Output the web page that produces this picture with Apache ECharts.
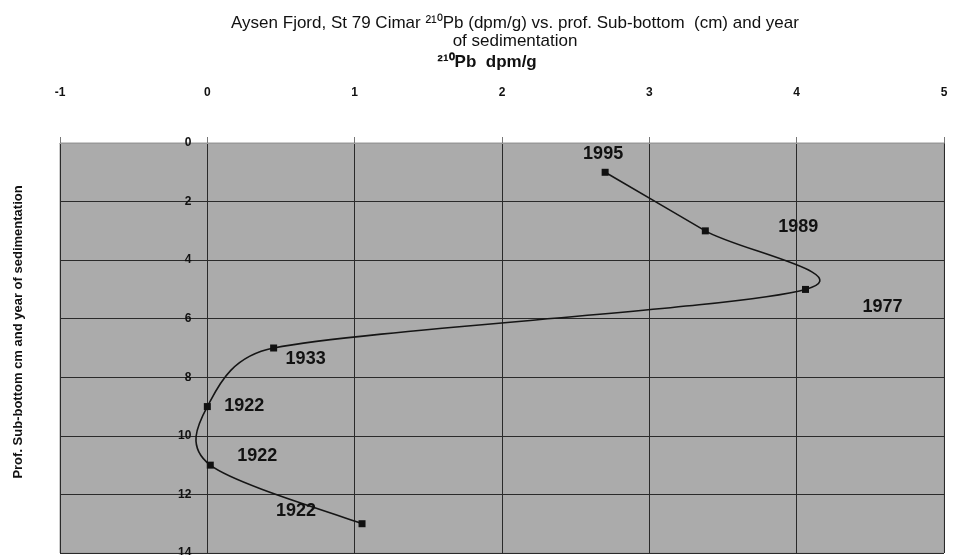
<!DOCTYPE html>
<html>
<head>
<meta charset="utf-8">
<script src="https://cdn.jsdelivr.net/npm/echarts@6/dist/echarts.min.js"></script>
<style>html,body{margin:0;padding:0;background:#fff;}#c{width:955px;height:555px;}</style>
</head>
<body>
<div id="c"></div>
<script>
// Data
var pb210 = [2.70, 3.38, 4.06, 0.45, 0.00, 0.02, 1.05];   // 210Pb dpm/g
var depth = [1, 3, 5, 7, 9, 11, 13];                      // cm sub-bottom
var years = ['1995', '1989', '1977', '1933', '1922', '1922', '1922'];
var xTicks = [-1, 0, 1, 2, 3, 4, 5];
var yTicks = [0, 2, 4, 6, 8, 10, 12, 14];

// label placement (style only)
var labelOffsets = [[-2, -18], [93, -4], [77, 18], [32, 11], [37, -1], [47, -9], [-66, -13]];

var chart = echarts.init(document.getElementById('c'));
var points = pb210.map(function (v, i) { return [v, depth[i]]; });
var scatterData = points.map(function (p, i) {
  return { value: p, label: { offset: labelOffsets[i] } };
});

// spreadsheet-style smoothed curve through the data (bezier, computed in pixel space)
function dist(a, b) { return Math.sqrt((a[0] - b[0]) * (a[0] - b[0]) + (a[1] - b[1]) * (a[1] - b[1])); }
function renderSegment(params, api) {
  var i = params.dataIndex;
  var n = points.length;
  if (i >= n - 1) return null;
  var c = function (k) { k = Math.max(0, Math.min(n - 1, k)); return api.coord(points[k]); };
  var p0 = c(i - 1), p1 = c(i), p2 = c(i + 1), p3 = c(i + 2);
  var d12 = dist(p1, p2), d02 = dist(p0, p2), d13 = dist(p1, p3);
  var f1 = (d02 / 6 > d12 / 2 && d02 > 0) ? d12 / (2 * d02) : 1 / 6;
  var f2 = (d13 / 6 > d12 / 2 && d13 > 0) ? d12 / (2 * d13) : 1 / 6;
  return {
    type: 'bezierCurve',
    shape: {
      x1: p1[0], y1: p1[1],
      cpx1: p1[0] + (p2[0] - p0[0]) * f1, cpy1: p1[1] + (p2[1] - p0[1]) * f1,
      cpx2: p2[0] - (p3[0] - p1[0]) * f2, cpy2: p2[1] - (p3[1] - p1[1]) * f2,
      x2: p2[0], y2: p2[1]
    },
    style: { stroke: '#151515', lineWidth: 1.6, fill: null }
  };
}

var font = 'Liberation Sans, Arial, sans-serif';
chart.setOption({
  animation: false,
  backgroundColor: '#ffffff',
  title: {
    text: 'Aysen Fjord, St 79 Cimar ²¹⁰Pb (dpm/g) vs. prof. Sub-bottom  (cm) and year\nof sedimentation',
    left: 510,
    textAlign: 'center',
    top: 9,
    textStyle: { fontFamily: font, fontSize: 17, fontWeight: 'normal', color: '#111', lineHeight: 18 }
  },
  grid: { left: 60, right: 11, top: 143, bottom: 2, show: true, backgroundColor: '#ababab', borderColor: '#999', borderWidth: 1, outerBoundsMode: 'none', containLabel: false },
  xAxis: {
    type: 'value',
    position: 'top',
    min: xTicks[0],
    max: xTicks[xTicks.length - 1],
    interval: 1,
    name: '²¹⁰Pb  dpm/g',
    nameLocation: 'middle',
    nameGap: 72,
    nameTextStyle: { fontFamily: font, fontSize: 17, fontWeight: 'bold', color: '#111', padding: [0, 30, 0, 0] },
    axisLine: { show: true, onZero: false, lineStyle: { color: '#999' } },
    axisTick: { show: true, length: 6, lineStyle: { color: '#777' } },
    axisLabel: { margin: 44, fontFamily: font, fontSize: 12, fontWeight: 'bold', color: '#111' },
    splitLine: { show: true, lineStyle: { color: '#2a2a2a', width: 1 } }
  },
  yAxis: {
    type: 'value',
    inverse: true,
    min: yTicks[0],
    max: yTicks[yTicks.length - 1],
    interval: 2,
    offset: -147.4,
    name: 'Prof. Sub-bottom cm and year of sedimentation',
    nameLocation: 'middle',
    nameGap: 182,
    nameTextStyle: { fontFamily: font, fontSize: 13, fontWeight: 'bold', color: '#111', padding: [0, 0, 0, 32] },
    axisLine: { show: true, onZero: false, lineStyle: { color: '#2a2a2a' } },
    axisTick: { show: false },
    axisLabel: { margin: 16, fontFamily: font, fontSize: 12, fontWeight: 'bold', color: '#111' },
    splitLine: { show: true, lineStyle: { color: '#2a2a2a', width: 1 } }
  },
  series: [{
    type: 'custom',
    data: points,
    encode: { x: 0, y: 1 },
    renderItem: renderSegment,
    z: 2,
    silent: true
  }, {
    type: 'scatter',
    data: scatterData,
    symbol: 'rect',
    symbolSize: 7,
    z: 3,
    itemStyle: { color: '#111', opacity: 1 },
    label: {
      show: true,
      position: 'inside',
      formatter: function (p) { return years[p.dataIndex]; },
      fontFamily: font,
      fontSize: 18,
      fontWeight: 'bold',
      color: '#111',
      opacity: 1
    }
  }]
});
</script>
</body>
</html>
